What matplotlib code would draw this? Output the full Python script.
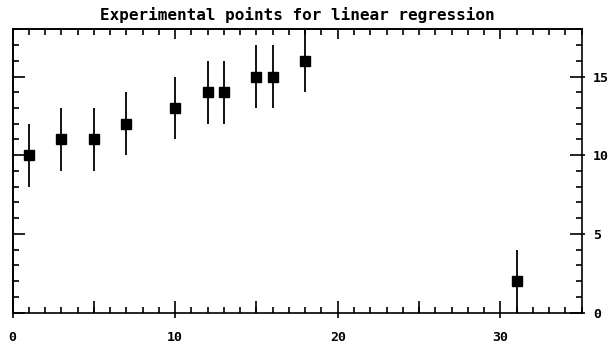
import matplotlib
matplotlib.use("Agg")
import matplotlib.pyplot as plt
from matplotlib.ticker import MultipleLocator, NullFormatter

# Measured points with symmetric errors
x_vals = [1, 3, 5, 7, 10, 12, 13, 15, 16, 18, 31]
y_vals = [10, 11, 11, 12, 13, 14, 14, 15, 15, 16, 2]
y_err = [2, 2, 2, 2, 2, 2, 2, 2, 2, 2, 2]

x_ticks = [0, 10, 20, 30]
x_tick_labels = ["0", "10", "20", "30"]
x_long_ticks = [0, 5, 10, 15, 20, 25, 30]
y_ticks = [0, 5, 10, 15]
y_tick_labels = ["0", "5", "10", "15"]

font = {"family": "DejaVu Sans Mono", "weight": "bold", "size": 9.5}
title_font = {"family": "DejaVu Sans Mono", "weight": "bold", "size": 11.5}
LW = 1.2
MINOR = 4.0
LONG = 8.5

fig = plt.figure(figsize=(6.13, 3.43), dpi=100)
ax = fig.add_axes([12.5 / 613, 1 - 312.5 / 343, (581.7 - 12.5) / 613, (312.5 - 29.3) / 343])

ax.errorbar(x_vals, y_vals, yerr=y_err, fmt="s", color="black", ms=6.5,
            elinewidth=1.3, capsize=0, mec="black", mfc="black", zorder=3)

ax.set_xlim(0, 35)
ax.set_ylim(0, 18)

for s in ax.spines.values():
    s.set_linewidth(LW)

# bottom axis: labels with a short stub below the frame, minors inside
ax.set_xticks(x_ticks)
ax.set_xticklabels(x_tick_labels, fontdict=font)
ax.xaxis.set_minor_locator(MultipleLocator(1))
ax.tick_params(axis="x", which="major", direction="out", length=3.5, width=LW,
               top=False, bottom=True, pad=10)
ax.tick_params(axis="x", which="minor", direction="in", length=MINOR, width=LW,
               top=False, bottom=True)

# long inward ticks every five units on the bottom
mid = ax.secondary_xaxis("bottom")
mid.set_xticks(x_long_ticks)
mid.xaxis.set_major_formatter(NullFormatter())
mid.tick_params(axis="x", direction="in", length=LONG, width=LW)
mid.spines["bottom"].set_visible(False)

# top axis: ticks pointing into the frame only
top = ax.secondary_xaxis("top")
top.set_xticks(x_ticks)
top.xaxis.set_major_formatter(NullFormatter())
top.xaxis.set_minor_locator(MultipleLocator(1))
top.tick_params(axis="x", which="major", direction="in", length=7, width=LW)
top.tick_params(axis="x", which="minor", direction="in", length=MINOR, width=LW)
top.spines["top"].set_linewidth(LW)

# right axis carries the value labels
ax.yaxis.tick_right()
ax.set_yticks(y_ticks)
ax.set_yticklabels(y_tick_labels, fontdict=font)
ax.yaxis.set_minor_locator(MultipleLocator(1))
ax.tick_params(axis="y", which="major", direction="out", length=2, width=LW,
               left=False, right=True, labelleft=False, labelright=True, pad=6)
ax.tick_params(axis="y", which="minor", direction="in", length=MINOR, width=LW,
               left=False, right=True)

rmaj = ax.secondary_yaxis("right")
rmaj.set_yticks(y_ticks)
rmaj.yaxis.set_major_formatter(NullFormatter())
rmaj.tick_params(axis="y", direction="in", length=LONG, width=LW)
rmaj.spines["right"].set_visible(False)

# left axis: inward ticks only
left = ax.secondary_yaxis("left")
left.set_yticks(y_ticks)
left.yaxis.set_major_formatter(NullFormatter())
left.yaxis.set_minor_locator(MultipleLocator(1))
left.tick_params(axis="y", which="major", direction="in", length=LONG, width=LW)
left.tick_params(axis="y", which="minor", direction="in", length=MINOR, width=LW)
left.spines["left"].set_linewidth(LW)

ax.set_title("Experimental points for linear regression", fontdict=title_font, pad=7)

fig.savefig("out.png", dpi=100)
